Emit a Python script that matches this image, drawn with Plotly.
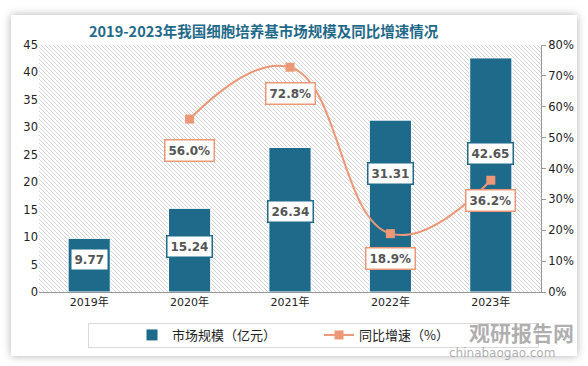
import base64
import plotly.graph_objects as go

years = ["2019年", "2020年", "2021年", "2022年", "2023年"]
market_size = [9.77, 15.24, 26.34, 31.31, 42.65]
growth_years = ["2020年", "2021年", "2022年", "2023年"]
growth_rate = [56.0, 72.8, 18.9, 36.2]
left_ticks = list(range(0, 50, 5))
right_ticks = list(range(0, 90, 10))

# label placement (styling): bar label centre in left-axis units, line label pixel shift
bar_label_y = [6.0, 8.2, 14.6, 21.5, 25.3]
line_label_shift = [-31, -26, -25, -20]

BAR = "#1d6a8b"
LINE = "#ec9877"
FONT = "DejaVu Sans, Noto Sans CJK SC, sans-serif"

W, H = 588, 366
L, R, T, B = 39, 541, 45, 292
PW, PH = R - L, B - T


def px(x):
    return (x - L) / PW


def py(y):
    return (B - y) / PH


fig = go.Figure()

fig.add_trace(go.Bar(
    x=years, y=market_size, name="市场规模（亿元）", marker=dict(color=BAR, line=dict(color="white", width=1)),
    width=0.42, yaxis="y", hoverinfo="skip"))

fig.add_trace(go.Scatter(
    x=growth_years, y=growth_rate, name="同比增速（%）", yaxis="y2", mode="lines+markers",
    line=dict(color=LINE, width=2, shape="spline", smoothing=1.25),
    marker=dict(symbol="square", size=9, color=LINE), hoverinfo="skip"))

annotations = []
for yr, v, ly in zip(years, market_size, bar_label_y):
    annotations.append(dict(x=yr, y=ly, xref="x", yref="y", text=f"<b>{v:.2f}</b>", showarrow=False,
                            xanchor="center", yanchor="middle",
                            font=dict(family=FONT, size=12, color="#555555"), bgcolor="white",
                            bordercolor=BAR, borderwidth=1.5, borderpad=3))
for yr, v, s in zip(growth_years, growth_rate, line_label_shift):
    annotations.append(dict(x=yr, y=v, xref="x", yref="y2", yshift=s, text=f"<b>{v:.1f}%</b>", showarrow=False,
                            xanchor="center", yanchor="middle",
                            font=dict(family=FONT, size=12, color="#555555"), bgcolor="white",
                            bordercolor=LINE, borderwidth=1.5, borderpad=3))

annotations.append(dict(x=px(264), y=py(31), xref="paper", yref="paper", xanchor="center", yanchor="middle",
                        text="<b>2019-2023年我国细胞培养基市场规模及同比增速情况</b>",
                        showarrow=False, font=dict(family="Noto Sans CJK SC", size=14.5, color="#1f6a8a")))
annotations.append(dict(x=px(521), y=py(332), xref="paper", yref="paper", xanchor="center", yanchor="middle",
                        text="<b>观研报告网</b>", showarrow=False,
                        font=dict(family="Noto Sans CJK SC", size=21, color="rgba(140,140,140,0.7)")))
annotations.append(dict(x=px(502), y=py(353), xref="paper", yref="paper", xanchor="center", yanchor="middle",
                        text="chinabaogao.com", showarrow=False,
                        font=dict(family=FONT, size=12, color="rgba(140,140,140,0.7)")))

# full-figure background: shadowed card plus hatched plot area
svg = (f'<svg xmlns="http://www.w3.org/2000/svg" width="{W}" height="{H}" viewBox="0 0 {W} {H}">'
       '<defs><pattern id="p" width="4" height="4" patternUnits="userSpaceOnUse">'
       '<path d="M-1,-1 L5,5 M-1,3 L1,5 M3,-1 L5,1" stroke="#d0d0d0" stroke-width="0.9"/></pattern>'
       '<filter id="s" x="-10%" y="-10%" width="120%" height="120%"><feGaussianBlur stdDeviation="4"/></filter></defs>'
       f'<rect width="{W}" height="{H}" fill="white"/>'
       '<rect x="11" y="15" width="566" height="341" fill="#b0b0b0" filter="url(#s)"/>'
       '<rect x="11" y="15" width="566" height="341" fill="white"/>'
       f'<rect x="{L}" y="{T}" width="{PW}" height="{PH}" fill="url(#p)"/>'
       '<rect x="88.5" y="323.5" width="450" height="24" fill="none" stroke="#d9d9d9" stroke-width="1"/>'
       '</svg>')
src = "data:image/svg+xml;base64," + base64.b64encode(svg.encode()).decode()

fig.update_layout(
    width=W, height=H, margin=dict(l=L, r=W - R, t=T, b=H - B, autoexpand=False),
    paper_bgcolor="white", plot_bgcolor="rgba(0,0,0,0)",
    font=dict(family=FONT, size=11, color="#222222"),
    barmode="overlay", showlegend=True,
    legend=dict(orientation="h", x=px(132), xanchor="left", y=py(335), yanchor="middle",
                font=dict(family="Noto Sans CJK SC", size=13, color="#222222"), bgcolor="rgba(0,0,0,0)",
                itemwidth=30, tracegroupgap=0, entrywidth=142),
    xaxis=dict(showline=True, linecolor="#999999", linewidth=1, showgrid=False, ticks="",
               tickfont=dict(family=FONT, size=11), range=[-0.5, 4.5]),
    yaxis=dict(range=[0, 45], tickvals=left_ticks, showgrid=False, zeroline=False, showline=False,
               tickfont=dict(family=FONT, size=11.5), ticks=""),
    yaxis2=dict(range=[0, 80], tickvals=right_ticks, ticktext=[f"{t}%" for t in right_ticks],
                overlaying="y", side="right", showgrid=False, zeroline=False, showline=True,
                linecolor="#999999", ticks="outside", ticklen=4, tickcolor="#999999",
                tickfont=dict(family=FONT, size=11.5)),
    annotations=annotations,
    images=[dict(source=src, xref="paper", yref="paper", x=px(0), y=py(0), sizex=W / PW, sizey=H / PH,
                 xanchor="left", yanchor="top", sizing="stretch", layer="below")],
)

fig.write_html("out.html", config={"displayModeBar": False},
               post_script="document.body.style.margin='0';document.body.style.overflow='hidden';")
